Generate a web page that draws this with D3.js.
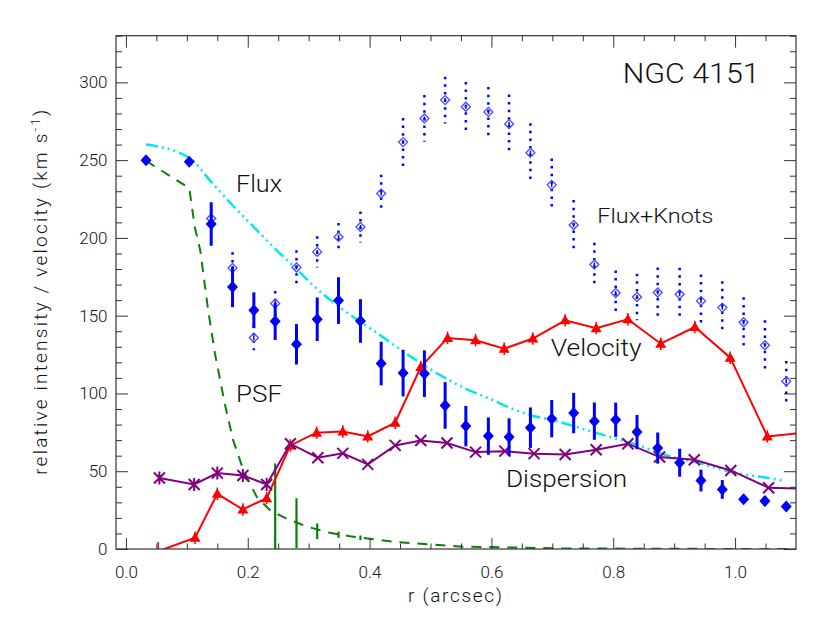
<!DOCTYPE html>
<html><head><meta charset="utf-8">
<script src="https://cdn.jsdelivr.net/npm/d3@7"></script>
<style>body{margin:0;background:#fff}svg{display:block}text{font-family:Roboto,"DejaVu Sans",sans-serif;font-weight:300;fill:#111}</style>
</head><body><svg id="c" width="830" height="623"></svg>
<script>
// ---- data ----
const fluxR = [0.033,0.104,0.14,0.175,0.21,0.245,0.28,0.314,0.349,0.385,0.419,0.455,0.49,0.524,0.558,0.595,0.629,0.664,0.699,0.735,0.769,0.804,0.839,0.873,0.909,0.944,0.979,1.014,1.049,1.084];
const fluxV = [250,249,209,168.5,153.5,146.4,131.6,147.7,159.7,146.6,119.2,113.1,112.7,92.3,79,72.6,72,78,83.8,87.4,82.2,83.1,75.2,64.9,55.5,44,38.3,32,30.8,27.3];
const fluxErr = [0,0,14,13,11.5,12,13,14,15,14,14,15,15,15,13,12,12,13,12,13,12,11,11,10,9,7,6,0,3,0];
const knotsR = fluxR.slice(2);
const knotsV = [212.5,180.7,135.8,157.8,181,191,200.6,207,228.6,261.6,276.8,288.6,284.3,281,273.2,254.7,234.1,208.3,182.9,164.6,162,164.9,163.8,159.5,155.2,145.8,131,107.8];
const knotsErr = [6,10,8,8,11,10,9,10,12,15.5,15,15,16,16,19,19,17,16,14,14.5,15,16,17,17,17,16,16,13];
const modelR = [0.033,0.104,0.14,0.175,0.21,0.245,0.28,0.314,0.349,0.385,0.419,0.455,0.49,0.524,0.558,0.595,0.629,0.664,0.699,0.735,0.769,0.804,0.839,0.873,0.909,0.944,0.979,1.014,1.049,1.078];
const modelV = [260,251.5,236,221,207,193,180,167,156,146,137,127,118,110,103,97,91,86,83,79,75,71,67,62,58,55,51,48,46,44];
const psfR = [0.033,0.104,0.113,0.122,0.135,0.146,0.163,0.176,0.193,0.215,0.237,0.264,0.297,0.33,0.368,0.445,0.553,0.717,0.9,1.1];
const psfV = [249.5,232,207,192,153.5,126,92,70,50.5,33.3,24.8,19.4,14.5,10.8,8.2,4.4,1.5,0.4,0.1,0];
const psfBarR = [0.245,0.28,0.314,0.349,0.385];
const psfBarV = [22,16.6,11.4,9.2,7.2];
const psfBarErr = [33,16,5,2,1.5];
const velR = [0.053,0.1135,0.15,0.192,0.231,0.27,0.313,0.356,0.397,0.442,0.484,0.528,0.574,0.621,0.668,0.721,0.772,0.824,0.878,0.934,0.992,1.053,1.12];
const velV = [-1.5,7.2,35.5,25.4,32.7,66.6,74.8,75.6,72.4,81.2,117,135.7,134.2,128.8,135.3,147,142,147.7,132,142.7,123,72.4,75];
const dispR = [0.055,0.112,0.15,0.192,0.231,0.27,0.315,0.356,0.397,0.442,0.484,0.527,0.574,0.622,0.67,0.721,0.772,0.824,0.876,0.933,0.993,1.055,1.12];
const dispV = [45.6,41.5,48.8,47.3,41.5,67.7,58.7,61.5,54.4,66.6,69.8,68.1,62.3,62.9,61.3,60.8,63.8,67.7,59.1,57.4,50.5,39.4,38.6];
const xMajor = [0,0.2,0.4,0.6,0.8,1.0];
const xTickLabels = ["0.0","0.2","0.4","0.6","0.8","1.0"];
const yMajor = [0,50,100,150,200,250,300];
const yTickLabels = ["0","50","100","150","200","250","300"];

// ---- layout ----
const L=116,R=796,T=35.7,B=549;
const svg=d3.select("#c");
const x=d3.scaleLinear().domain([-0.0163,1.1]).range([L,R]);
const y=d3.scaleLinear().domain([0,330]).range([B,T]);

svg.append("defs").append("clipPath").attr("id","clip").append("rect")
  .attr("x",L).attr("y",T).attr("width",R-L).attr("height",B-T);
const g=svg.append("g").attr("clip-path","url(#clip)");

// PSF dashed
g.append("path").datum(psfR.map((r,i)=>[r,psfV[i]]))
  .attr("d",d3.line().x(d=>x(d[0])).y(d=>y(d[1])))
  .attr("fill","none").attr("stroke","#0a800a").attr("stroke-width",2).attr("stroke-dasharray","10,8");
psfBarR.forEach((r,i)=>{
  g.append("line").attr("x1",x(r)).attr("x2",x(r)).attr("y1",y(psfBarV[i]-psfBarErr[i])).attr("y2",y(psfBarV[i]+psfBarErr[i]))
   .attr("stroke","#0a800a").attr("stroke-width",2.2);
});
// model cyan
g.append("path").datum(modelR.map((r,i)=>[r,modelV[i]]))
  .attr("d",d3.line().x(d=>x(d[0])).y(d=>y(d[1])).curve(d3.curveMonotoneX))
  .attr("fill","none").attr("stroke","#00e8ee").attr("stroke-width",2.5).attr("stroke-dasharray","12,4,2,4,2,4,2,4");

// velocity
g.append("path").datum(velR.map((r,i)=>[r,velV[i]]))
  .attr("d",d3.line().x(d=>x(d[0])).y(d=>y(d[1])))
  .attr("fill","none").attr("stroke","#ff0000").attr("stroke-width",2);
velR.forEach((r,i)=>{
  const cx=x(r),cy=y(velV[i]);
  g.append("line").attr("x1",cx).attr("x2",cx).attr("y1",y(velV[i]-4)).attr("y2",y(velV[i]+(i===0?6:4))).attr("stroke","#ff0000").attr("stroke-width",1.5);
  if(velV[i]>0) g.append("path").attr("d",`M${cx},${cy-5.5}L${cx+5.5},${cy+4}L${cx-5.5},${cy+4}Z`).attr("fill","#ff0000");
});
// dispersion
g.append("path").datum(dispR.map((r,i)=>[r,dispV[i]]))
  .attr("d",d3.line().x(d=>x(d[0])).y(d=>y(d[1])))
  .attr("fill","none").attr("stroke","#800080").attr("stroke-width",2);
dispR.forEach((r,i)=>{
  const cx=x(r),cy=y(dispV[i]),s=5.5;
  let d=`M${cx-s},${cy-s}L${cx+s},${cy+s}M${cx-s},${cy+s}L${cx+s},${cy-s}`;
  if(r<0.25) d+=`M${cx},${cy-s-1}L${cx},${cy+s+1}`;
  g.append("path").attr("d",d).attr("stroke","#800080").attr("stroke-width",2).attr("fill","none");
});

// flux+knots open diamonds w dotted bars
knotsR.forEach((r,i)=>{
  const cx=x(r),cy=y(knotsV[i]);
  g.append("line").attr("x1",cx).attr("x2",cx).attr("y1",y(knotsV[i]+knotsErr[i])).attr("y2",y(knotsV[i]-knotsErr[i]))
   .attr("stroke","#0000ff").attr("stroke-width",2.5).attr("stroke-dasharray","2.5,5.1");
  g.append("path").attr("d",`M${cx},${cy-4.5}L${cx+4.5},${cy}L${cx},${cy+4.5}L${cx-4.5},${cy}Z`)
   .attr("fill","none").attr("stroke","#4a4aff").attr("stroke-width",1.3);
  g.append("line").attr("x1",cx).attr("x2",cx).attr("y1",cy-2).attr("y2",cy+2).attr("stroke","#0000ff").attr("stroke-width",1.5);
});
// flux filled diamonds
fluxR.forEach((r,i)=>{
  const cx=x(r),cy=y(fluxV[i]);
  if(fluxErr[i]>0) g.append("line").attr("x1",cx).attr("x2",cx).attr("y1",y(fluxV[i]+fluxErr[i])).attr("y2",y(fluxV[i]-fluxErr[i]))
   .attr("stroke","#0000ff").attr("stroke-width",3);
  g.append("path").attr("d",`M${cx},${cy-6}L${cx+5.5},${cy}L${cx},${cy+6}L${cx-5.5},${cy}Z`).attr("fill","#0000ff");
});

// ---- axes ----
const axC="#333";
const xMinor=d3.range(0.05,1.09,0.05).filter(v=>Math.abs(v/0.2-Math.round(v/0.2))>1e-6);
const yMinor=d3.range(10,331,10).filter(v=>v%50!==0);
function ax(gen,pos,vals,size,labels){
  const a=svg.append("g").attr("transform",pos).call(gen.tickValues(vals).tickSizeInner(size).tickSizeOuter(0).tickPadding(size>0?0:8).tickFormat((d,i)=>labels?labels[i]:""));
  a.select(".domain").remove();
  a.selectAll("line").attr("stroke",axC).attr("stroke-width",1);
  a.selectAll("text").style("font-size","17px").style("font-family",null).attr("font-family",null).attr("fill","#111");
  return a;
}
const xb=ax(d3.axisBottom(x),`translate(0,${B})`,xMajor,-11,xTickLabels);
xb.selectAll("text").attr("dy",null).attr("y",29);
ax(d3.axisBottom(x),`translate(0,${B})`,xMinor,-5.5,null);
ax(d3.axisTop(x),`translate(0,${T})`,xMajor,-12,null);
ax(d3.axisTop(x),`translate(0,${T})`,xMinor,-5.5,null);
const yl=ax(d3.axisLeft(y),`translate(${L},0)`,yMajor,-12,yTickLabels);
yl.selectAll("text").attr("x",-8.5);
ax(d3.axisLeft(y),`translate(${L},0)`,yMinor,-6,null);
ax(d3.axisRight(y),`translate(${R},0)`,yMajor,-12,null);
ax(d3.axisRight(y),`translate(${R},0)`,yMinor,-6,null);
svg.selectAll("g.tick text").attr("font-family",null);
svg.append("rect").attr("x",L).attr("y",T).attr("width",R-L).attr("height",B-T).attr("fill","none").attr("stroke",axC).attr("stroke-width",1.2);

// ---- text ----
function lab(t,xx,yy,fs,len){svg.append("text").attr("x",xx).attr("y",yy).style("font-size",fs+"px").attr("textLength",len).attr("lengthAdjust","spacingAndGlyphs").text(t);}
lab("NGC 4151",622.7,83.3,28,137);
lab("Flux",236,191.7,23,46);
lab("PSF",236,402.3,23,46);
lab("Flux+Knots",597.3,223.3,20,116);
lab("Velocity",550.7,356,23,91);
lab("Dispersion",506,486.7,23,121);
svg.append("text").attr("x",455).attr("y",601.7).attr("text-anchor","middle").style("font-size","19px").attr("textLength",94).text("r (arcsec)");
const yt=svg.append("text").attr("transform",`translate(47,${(T+B)/2}) rotate(-90)`).attr("text-anchor","middle").style("font-size","19px").attr("textLength",365);
yt.append("tspan").text("relative intensity / velocity (km s");
yt.append("tspan").attr("dy",-7).style("font-size","13px").text("-1");
yt.append("tspan").attr("dy",7).text(")");
</script></body></html>
